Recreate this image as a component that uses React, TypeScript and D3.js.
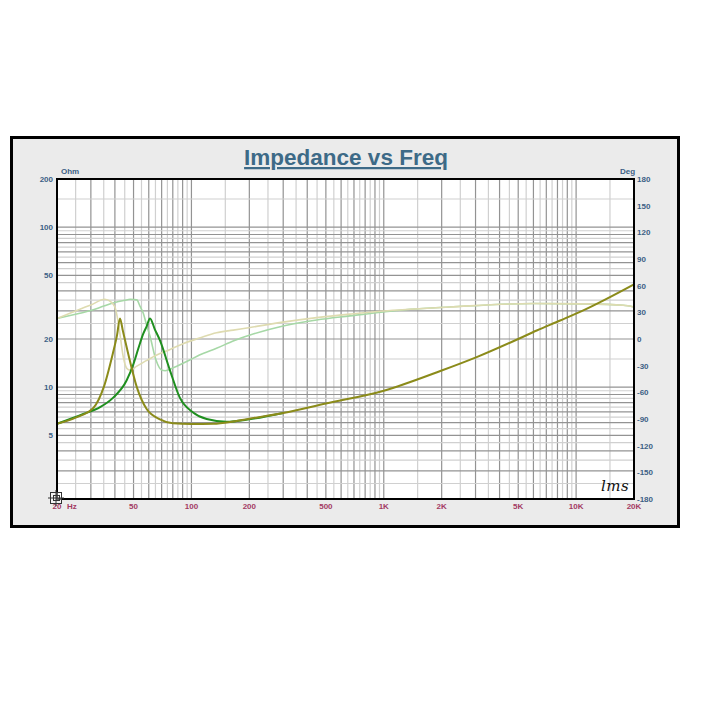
import * as d3 from "d3";

// impedance, driver A (olive)
const impAFreq = [20, 25, 31, 35, 39, 41, 42.5, 44, 47, 52, 58.5, 68.6, 80, 100, 130, 165, 200, 300, 500, 1000, 2000, 3040, 5000, 6240, 8260, 10900, 20000];
const impA = [5.9, 6.45, 7.45, 10, 16.2, 21, 26.9, 22.5, 16, 10, 7.3, 6.3, 5.95, 5.88, 5.9, 6.1, 6.35, 6.9, 7.9, 9.5, 12.7, 15.4, 20, 22.6, 26.1, 30.2, 43.9];

// impedance, driver B (green)
const impBFreq = [20, 27.4, 33.5, 39.2, 46, 50, 53, 56.2, 58.5, 60.9, 64.5, 68.6, 77.4, 87, 102, 120, 152, 200, 300];
const impB = [5.9, 6.8, 7.5, 8.6, 11, 14, 17.5, 21.6, 24, 26.9, 23, 19.6, 12.7, 8.6, 6.95, 6.32, 6.08, 6.3, 6.9];

// phase, driver A (light khaki)
const phAFreq = [20, 26.3, 30, 35.5, 38, 40, 41.7, 44.2, 46.1, 48, 52, 58.6, 66, 77, 91, 110, 135, 165, 202, 300, 448, 667, 995, 1370, 2200, 6000, 10900, 17600, 20000];
const phA = [23, 33.5, 38.3, 44.7, 42, 36, 18, -20, -33, -35, -30.5, -24, -18, -12, -5, 1, 7, 10, 13, 19, 24, 28, 31.5, 33.5, 36, 40, 39.5, 38, 36];

// phase, driver B (light green)
const phBFreq = [20, 26.3, 30, 35, 40, 45, 48, 52, 54, 56.2, 58.5, 60.9, 65.5, 70, 73, 81, 98, 110, 135, 166, 202, 300, 448, 667, 995, 1370, 2200, 6000, 10900, 17600, 20000];
const phB = [23, 29, 32, 37, 41, 43.5, 44.7, 44, 37, 29, 15.5, 3, -24, -35, -35.7, -32, -23.6, -18, -10.5, -2, 4.5, 14.6, 21.4, 26, 30.4, 33.4, 36, 40, 39.5, 38, 36];

const freqTicks = [50, 100, 200, 500, 1000, 2000, 5000, 10000, 20000];
const ohmTicks = [200, 100, 50, 20, 10, 5];
const degTicks = d3.range(-180, 181, 30);

const W = 701;
const H = 704;
const plot = { left: 57, right: 634, top: 179, bottom: 499 };
const font = "'Liberation Sans', Arial, sans-serif";

const fmtFreq = (f: number) => (f >= 1000 ? `${f / 1000}K` : `${f}`);

export default function App() {
  const x = d3.scaleLog().domain([20, 20000]).range([plot.left, plot.right]);
  const yL = d3.scaleLog().domain([2, 200]).range([plot.bottom, plot.top]);
  const yR = d3.scaleLinear().domain([-180, 180]).range([plot.bottom, plot.top]);

  // grid: integer multiples darker, half steps lighter
  const steps = d3.range(1, 10, 0.5);
  const vGrid = [10, 100, 1000, 10000]
    .flatMap(d => steps.map(m => ({ v: d * m, major: m % 1 === 0 })))
    .filter(g => g.v > 20 && g.v < 20000);
  const hGrid = [1, 10, 100]
    .flatMap(d => steps.map(m => ({ v: d * m, major: m % 1 === 0 })))
    .filter(g => g.v > 2 && g.v < 200);

  const zLine = (fs: number[], vs: number[]) =>
    d3.line<number>()
      .x((_, i) => x(fs[i]))
      .y(v => yL(v))
      .curve(d3.curveMonotoneX)(vs) ?? "";
  const pLine = (fs: number[], vs: number[]) =>
    d3.line<number>()
      .x((_, i) => x(fs[i]))
      .y(v => yR(v))
      .curve(d3.curveMonotoneX)(vs) ?? "";

  const blue = "#3c5f85";
  const pink = "#a33a63";

  return (
    <svg width={W} height={H} style={{ position: "absolute", left: 0, top: 0, background: "#fff" }}>
      <rect x={11.5} y={137.5} width={667} height={389} fill="#ebebeb" stroke="#000" strokeWidth={3} />

      <text x={346} y={165} textAnchor="middle" fontFamily={font} fontWeight="bold" fontSize={22.5}
        fill="#3d6a87" textDecoration="underline">Impedance vs Freq</text>

      <rect x={plot.left} y={plot.top} width={plot.right - plot.left} height={plot.bottom - plot.top} fill="#fff" />

      {vGrid.map((g, i) => (
        <line key={`v${i}`} x1={x(g.v)} x2={x(g.v)} y1={plot.top} y2={plot.bottom}
          stroke={g.major ? "#939393" : "#d0d0d0"} strokeWidth={1.2} />
      ))}
      {hGrid.map((g, i) => (
        <line key={`h${i}`} x1={plot.left} x2={plot.right} y1={yL(g.v)} y2={yL(g.v)}
          stroke={g.major ? "#939393" : "#d0d0d0"} strokeWidth={1.2} />
      ))}

      <path d={pLine(phBFreq, phB)} fill="none" stroke="#a6d8a6" strokeWidth={1.6} />
      <path d={pLine(phAFreq, phA)} fill="none" stroke="#dedbb0" strokeWidth={1.6} />
      <path d={zLine(impBFreq, impB)} fill="none" stroke="#1f8f1f" strokeWidth={2} />
      <path d={zLine(impAFreq, impA)} fill="none" stroke="#8b8b1a" strokeWidth={2} />

      <rect x={plot.left} y={plot.top} width={plot.right - plot.left} height={plot.bottom - plot.top}
        fill="none" stroke="#000" strokeWidth={2} />

      {ohmTicks.map(t => (
        <text key={`l${t}`} x={53} y={yL(t) + 3} textAnchor="end" fontFamily={font} fontWeight="bold"
          fontSize={8} fill={blue}>{t}</text>
      ))}
      <text x={61} y={174} fontFamily={font} fontWeight="bold" fontSize={8} fill={blue}>Ohm</text>

      {degTicks.map(t => (
        <text key={`r${t}`} x={637} y={yR(t) + 3} fontFamily={font} fontWeight="bold"
          fontSize={8} fill={blue}>{t}</text>
      ))}
      <text x={620} y={174} fontFamily={font} fontWeight="bold" fontSize={8} fill={blue}>Deg</text>

      {freqTicks.map(t => (
        <text key={`b${t}`} x={x(t)} y={509} textAnchor="middle" fontFamily={font} fontWeight="bold"
          fontSize={8} fill={pink}>{fmtFreq(t)}</text>
      ))}
      <text x={57} y={509} textAnchor="middle" fontFamily={font} fontWeight="bold" fontSize={8} fill={pink}>20</text>
      <text x={67} y={509} fontFamily={font} fontWeight="bold" fontSize={8} fill={pink}>Hz</text>

      <g fill="none" stroke="#333" strokeWidth={1}>
        <rect x={50.5} y={492.5} width={11} height={11} fill="rgba(255,255,255,0.4)" />
        <rect x={53.5} y={495.5} width={6} height={5} />
        <line x1={48} x2={64} y1={498} y2={498} />
        <line x1={56} x2={56} y1={490} y2={506} />
      </g>

      <text x={601} y={491} fontFamily="'DejaVu Serif', serif" fontStyle="italic" fontSize={15}
        fill="#111" letterSpacing={0.5}>lms</text>
    </svg>
  );
}
